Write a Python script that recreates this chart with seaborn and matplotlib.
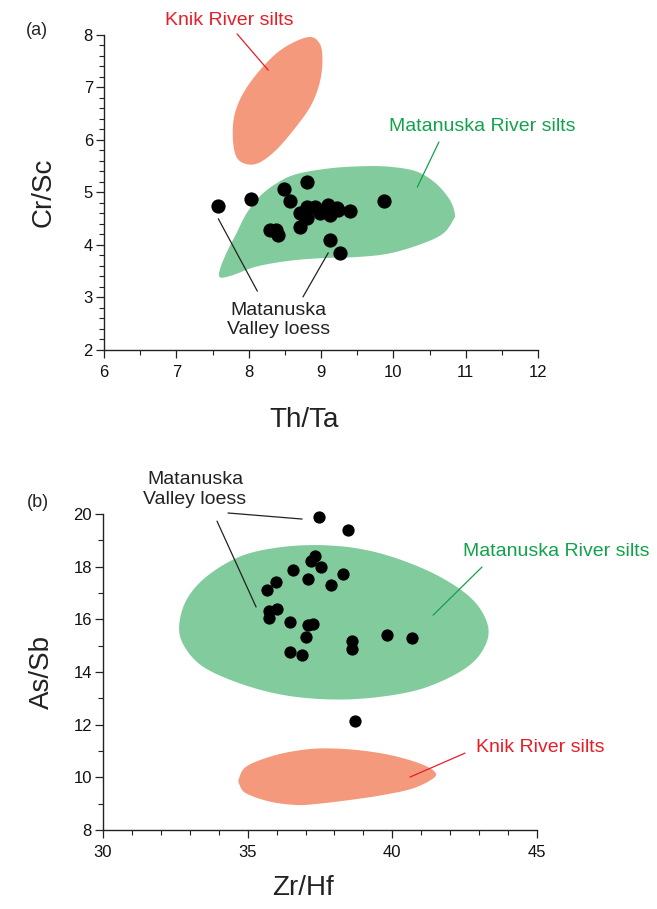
import numpy as np
import pandas as pd
import matplotlib
matplotlib.use("Agg")
import matplotlib.pyplot as plt
import seaborn as sns
from matplotlib.ticker import MultipleLocator

# ---------------- data: panel (a) Th/Ta vs Cr/Sc ----------------
loess_a_thta = [7.57, 8.03, 8.81, 8.49, 8.57, 9.87, 8.29, 8.38, 8.41, 8.71, 9.12, 9.26,
                9.40, 8.80, 8.92, 9.09, 9.22, 8.71, 8.80, 8.99, 9.13, 9.24, 8.78]
loess_a_crsc = [4.74, 4.88, 5.20, 5.06, 4.84, 4.83, 4.29, 4.28, 4.19, 4.35, 4.10, 3.84,
                4.65, 4.73, 4.73, 4.76, 4.70, 4.60, 4.51, 4.60, 4.57, 4.67, 4.55]

# region outlines
knik_a_x = [8.82, 8.98, 9.02, 8.98, 8.85, 8.62, 8.38, 8.15, 7.97, 7.83, 7.78, 7.81, 7.95, 8.20, 8.48]
knik_a_y = [7.96, 7.84, 7.52, 7.08, 6.63, 6.19, 5.81, 5.57, 5.54, 5.68, 6.06, 6.51, 6.95, 7.40, 7.75]
mat_a_x = [7.61, 7.79, 8.11, 8.57, 9.03, 9.49, 9.95, 10.41, 10.69, 10.83, 10.85, 10.78,
           10.59, 10.32, 9.95, 9.58, 9.12, 8.66, 8.38, 8.15, 7.97, 7.83, 7.69, 7.60]
mat_a_y = [3.38, 3.43, 3.59, 3.70, 3.75, 3.77, 3.84, 4.03, 4.22, 4.48, 4.60, 4.86,
           5.17, 5.40, 5.49, 5.50, 5.46, 5.35, 5.17, 4.92, 4.60, 4.22, 3.84, 3.52]

# ---------------- data: panel (b) Zr/Hf vs As/Sb ----------------
loess_b_zrhf = [37.47, 38.48, 37.34, 37.18, 37.53, 36.58, 37.09, 37.87, 38.29, 35.97, 35.67,
                35.73, 36.01, 35.73, 36.46, 37.09, 37.24, 37.02, 38.59, 38.59, 39.82, 40.68,
                36.46, 36.88, 38.70]
loess_b_assb = [19.89, 19.39, 18.41, 18.22, 17.97, 17.86, 17.52, 17.32, 17.73, 17.42, 17.11,
                16.33, 16.41, 16.06, 15.91, 15.77, 15.82, 15.34, 15.18, 14.86, 15.41, 15.30,
                14.76, 14.65, 12.13]

mat_b_x = [32.63, 32.88, 33.57, 34.72, 35.99, 37.37, 38.76, 40.14, 41.64, 42.79, 43.31, 43.13,
           42.44, 41.06, 39.45, 37.83, 36.22, 34.72, 33.46, 32.82]
mat_b_y = [15.72, 16.73, 17.62, 18.38, 18.72, 18.82, 18.70, 18.32, 17.62, 16.73, 15.72, 14.84,
           14.08, 13.38, 13.04, 12.96, 13.13, 13.57, 14.20, 14.96]
knik_b_x = [34.70, 34.95, 35.76, 36.68, 37.60, 38.76, 39.91, 40.94, 41.46, 41.41, 40.71, 39.68,
            38.53, 37.37, 36.68, 35.76, 34.95, 34.72]
knik_b_y = [9.96, 10.41, 10.78, 11.01, 11.10, 11.04, 10.85, 10.53, 10.22, 9.96, 9.58, 9.33,
            9.14, 8.99, 8.95, 9.08, 9.39, 9.71]

ORANGE = "#F4997B"
GREEN = "#82CB9D"
RED_TXT = "#E61E28"
GREEN_TXT = "#12A24B"
DARK = "#222222"

sns.set_theme(style="ticks")
plt.rcParams["font.family"] = ["Liberation Sans", "DejaVu Sans"]


def smooth_closed(xs, ys, n=30):
    """Closed Catmull-Rom curve through outline vertices (for drawing a smooth region)."""
    P = np.column_stack([xs, ys])
    m = len(P)
    out = []
    for i in range(m):
        p0, p1, p2, p3 = P[(i - 1) % m], P[i], P[(i + 1) % m], P[(i + 2) % m]
        t = np.linspace(0, 1, n, endpoint=False)[:, None]
        pt = 0.5 * ((2 * p1) + (-p0 + p2) * t + (2 * p0 - 5 * p1 + 4 * p2 - p3) * t ** 2
                    + (-p0 + 3 * p1 - 3 * p2 + p3) * t ** 3)
        out.append(pt)
    out = np.vstack(out)
    return out[:, 0], out[:, 1]


def leader(ax, x0, y0, x1, y1, color):
    ax.plot([x0, x1], [y0, y1], color=color, lw=0.9, clip_on=False, zorder=4)


fig = plt.figure(figsize=(6.57, 9.09), dpi=100)
ax1 = fig.add_axes([0.1583, 0.6150, 0.6606, 0.3465])
ax2 = fig.add_axes([0.1568, 0.0869, 0.6606, 0.3476])

# ---------- panel (a) ----------
gx, gy = smooth_closed(mat_a_x, mat_a_y)
ax1.fill(gx, gy, color=GREEN, lw=0, zorder=1)
kx, ky = smooth_closed(knik_a_x, knik_a_y)
ax1.fill(kx, ky, color=ORANGE, lw=0, zorder=1)
df_a = pd.DataFrame({"Th/Ta": loess_a_thta, "Cr/Sc": loess_a_crsc})
sns.scatterplot(data=df_a, x="Th/Ta", y="Cr/Sc", ax=ax1, color="black", s=105,
                linewidth=0, zorder=3)
ax1.set_xlim(6, 12)
ax1.set_ylim(2, 8)
ax1.xaxis.set_major_locator(MultipleLocator(1))
ax1.xaxis.set_minor_locator(MultipleLocator(0.5))
ax1.yaxis.set_major_locator(MultipleLocator(1))
ax1.yaxis.set_minor_locator(MultipleLocator(0.2))

ax1.text(7.73, 8.27, "Knik River silts", color=RED_TXT, fontsize=14, ha="center", va="center")
leader(ax1, 7.84, 8.02, 8.27, 7.33, RED_TXT)
ax1.text(11.23, 6.25, "Matanuska River silts", color=GREEN_TXT, fontsize=14,
         ha="center", va="center", clip_on=False)
leader(ax1, 10.63, 5.96, 10.33, 5.10, GREEN_TXT)
ax1.text(8.41, 2.57, "Matanuska\nValley loess", fontsize=14, ha="center", va="center",
         color=DARK, linespacing=1.2)
leader(ax1, 7.58, 4.50, 8.12, 3.12, DARK)
leader(ax1, 9.10, 3.85, 8.75, 3.01, DARK)
ax1.text(-0.155, 1.015, "(a)", transform=ax1.transAxes, fontsize=13, ha="center", va="center")

# ---------- panel (b) ----------
gx, gy = smooth_closed(mat_b_x, mat_b_y)
ax2.fill(gx, gy, color=GREEN, lw=0, zorder=1)
kx, ky = smooth_closed(knik_b_x, knik_b_y)
ax2.fill(kx, ky, color=ORANGE, lw=0, zorder=1)
df_b = pd.DataFrame({"Zr/Hf": loess_b_zrhf, "As/Sb": loess_b_assb})
sns.scatterplot(data=df_b, x="Zr/Hf", y="As/Sb", ax=ax2, color="black", s=78,
                linewidth=0, zorder=3, clip_on=False)
ax2.set_xlim(30, 45)
ax2.set_ylim(8, 20)
ax2.xaxis.set_major_locator(MultipleLocator(5))
ax2.xaxis.set_minor_locator(MultipleLocator(1))
ax2.yaxis.set_major_locator(MultipleLocator(2))
ax2.yaxis.set_minor_locator(MultipleLocator(1))

ax2.text(45.66, 18.56, "Matanuska River silts", color=GREEN_TXT, fontsize=14,
         ha="center", va="center", clip_on=False)
leader(ax2, 43.10, 17.99, 41.41, 16.16, GREEN_TXT)
ax2.text(45.11, 11.15, "Knik River silts", color=RED_TXT, fontsize=14,
         ha="center", va="center", clip_on=False)
leader(ax2, 42.51, 10.92, 40.61, 10.01, RED_TXT)
ax2.text(33.18, 20.93, "Matanuska\nValley loess", fontsize=14, ha="center", va="center",
         color=DARK, linespacing=1.2, clip_on=False)
leader(ax2, 34.32, 20.04, 36.88, 19.81, DARK)
leader(ax2, 33.94, 19.73, 35.29, 16.47, DARK)
ax2.text(-0.15, 1.035, "(b)", transform=ax2.transAxes, fontsize=13, ha="center", va="center")

for ax, xl, yl, xlab_y in [(ax1, "Th/Ta", "Cr/Sc", -0.18), (ax2, "Zr/Hf", "As/Sb", -0.142)]:
    sns.despine(ax=ax)
    ax.set_xlabel(xl, fontsize=20, color=DARK, va="top")
    ax.set_ylabel(yl, fontsize=20, color=DARK, va="bottom")
    ax.xaxis.set_label_coords(0.46, xlab_y)
    ax.yaxis.set_label_coords(-0.11, 0.5)
    for s in ("left", "bottom"):
        ax.spines[s].set_linewidth(1.0)
        ax.spines[s].set_color(DARK)
    ax.tick_params(axis="both", which="major", direction="out", length=6, width=0.9,
                   labelsize=12, color=DARK, labelcolor="#111111")
    ax.tick_params(axis="both", which="minor", direction="out", length=3.5, width=0.8,
                   color=DARK)
    ax.tick_params(axis="x", which="major", pad=5)
    ax.tick_params(axis="y", which="major", pad=2)
    ax.set_facecolor("white")

fig.savefig("out.png", dpi=100, facecolor="white")
